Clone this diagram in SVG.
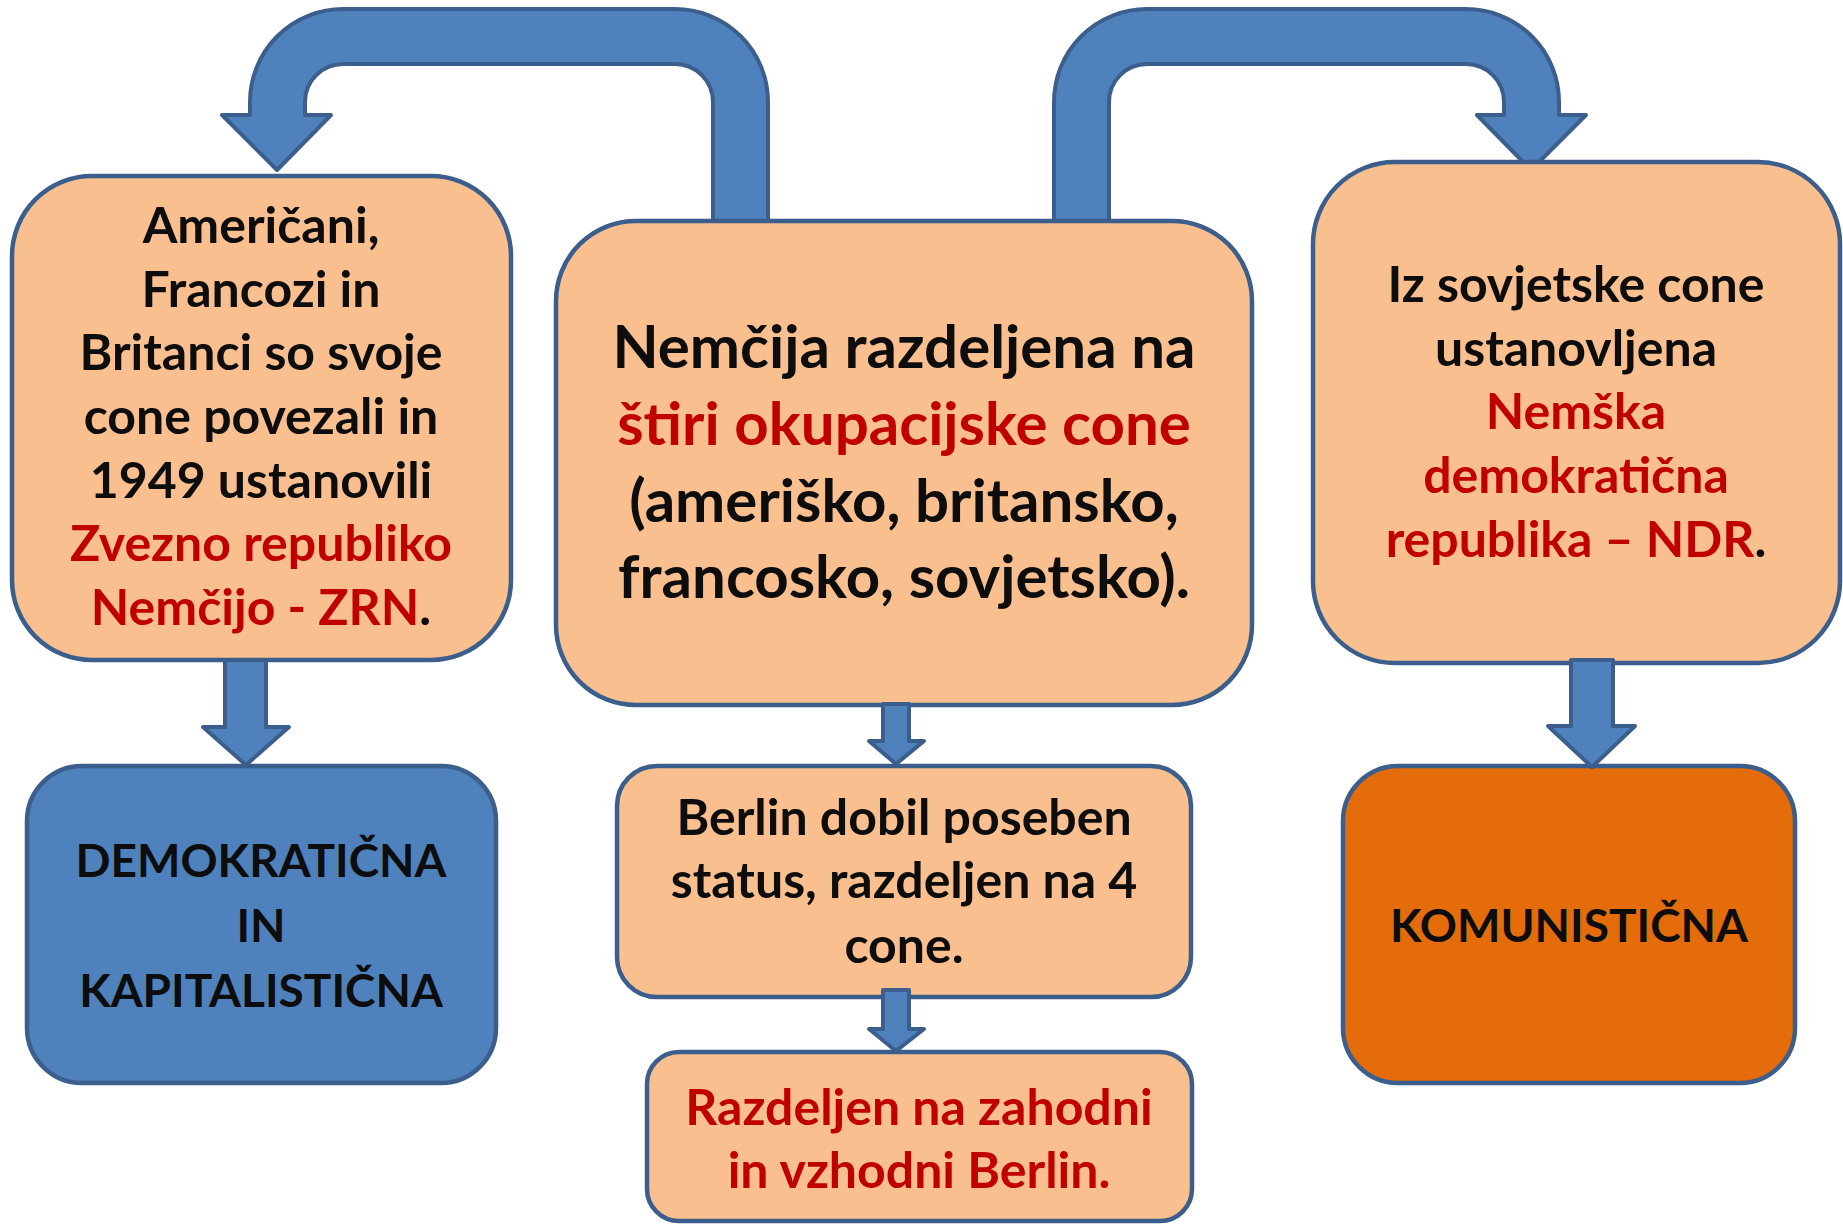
<svg xmlns="http://www.w3.org/2000/svg" width="1843" height="1225" viewBox="0 0 1843 1225">
<style>
.box{stroke:#3B5E8C;stroke-width:4.5}
.peach{fill:#F9BF8F}
.blue{fill:#4F81BD}
.orange{fill:#E46C0A}
.arrow{fill:#4F81BD;stroke:#3B5E8C;stroke-width:4;stroke-linejoin:round}
text{font-family:Lato,"Open Sans","Liberation Sans",sans-serif;font-weight:bold;fill:#0D0D0D;text-anchor:middle}
.t46{font-size:46px}
.t50{font-size:50px}
.t60{font-size:60px}
.red{fill:#C00000}
</style>
<rect width="1843" height="1225" fill="#FFFFFF"/>
<g id="connectors">
<path class="arrow" d="M222,115 L250,115 L250,102 A93,93 0 0 1 343,9 L675,9 A93,93 0 0 1 768,102 L768,221 L713,221 L713,102 A38,38 0 0 0 675,64 L343,64 A38,38 0 0 0 305,102 L305,115 L331,115 L277,170 Z"/>
<path class="arrow" d="M1054,221 L1054,102 A93,93 0 0 1 1147,9 L1466,9 A93,93 0 0 1 1559,102 L1559,115 L1586,115 L1531,170 L1477,115 L1504,115 L1504,102 A38,38 0 0 0 1466,64 L1147,64 A38,38 0 0 0 1109,102 L1109,221 Z"/>
</g>
<g id="node-left">
<rect class="box peach" x="12" y="176" width="499" height="484" rx="80"/>
<text class="t50"><tspan x="261" y="243">Američani,</tspan><tspan x="261" y="307">Francozi in</tspan><tspan x="261" y="370">Britanci so svoje</tspan><tspan x="261" y="434">cone povezali in</tspan><tspan x="261" y="498">1949 ustanovili</tspan><tspan x="261" y="561" class="red">Zvezno republiko</tspan><tspan x="261" y="625"><tspan class="red">Nemčijo - ZRN</tspan>.</tspan></text>
</g>
<g id="node-center">
<rect class="box peach" x="556" y="221" width="696" height="484" rx="80"/>
<text class="t60"><tspan x="904" y="368">Nemčija razdeljena na</tspan><tspan x="904" y="445" class="red">štiri okupacijske cone</tspan><tspan x="904" y="522">(ameriško, britansko,</tspan><tspan x="904" y="598">francosko, sovjetsko).</tspan></text>
</g>
<g id="node-right">
<rect class="box peach" x="1313" y="162" width="527" height="501" rx="82"/>
<text class="t50"><tspan x="1576" y="302">Iz sovjetske cone</tspan><tspan x="1576" y="366">ustanovljena</tspan><tspan x="1576" y="429" class="red">Nemška</tspan><tspan x="1576" y="493" class="red">demokratična</tspan><tspan x="1576" y="557"><tspan class="red">republika – NDR</tspan>.</tspan></text>
</g>
<g id="node-demo">
<rect class="box blue" x="27" y="766" width="469" height="317" rx="55"/>
<text class="t46"><tspan x="261" y="877">DEMOKRATIČNA</tspan><tspan x="261" y="942">IN</tspan><tspan x="261" y="1007">KAPITALISTIČNA</tspan></text>
</g>
<g id="node-komu">
<rect class="box orange" x="1343" y="766" width="452" height="317" rx="55"/>
<text class="t46"><tspan x="1569" y="942">KOMUNISTIČNA</tspan></text>
</g>
<g id="node-berlin">
<rect class="box peach" x="617" y="766" width="574" height="231" rx="40"/>
<text class="t50"><tspan x="904" y="835">Berlin dobil poseben</tspan><tspan x="904" y="898">status, razdeljen na 4</tspan><tspan x="904" y="963">cone.</tspan></text>
</g>
<g id="node-split">
<rect class="box peach" x="647" y="1052" width="545" height="169" rx="32"/>
<text class="t50 red"><tspan x="919" y="1125">Razdeljen na zahodni</tspan><tspan x="919" y="1188">in vzhodni Berlin.</tspan></text>
</g>
<g id="connectors-down">
<path class="arrow" d="M225,660 L266,660 L266,727 L289,727 L246,765 L203,727 L225,727 Z"/>
<path class="arrow" d="M1571,660 L1613,660 L1613,726 L1635,726 L1592,767 L1548,726 L1571,726 Z"/>
<path class="arrow" d="M883,704 L909,704 L909,741 L924,741 L896,764 L869,741 L883,741 Z"/>
<path class="arrow" d="M883,990 L909,990 L909,1029 L924,1029 L896,1051 L869,1029 L883,1029 Z"/>
</g>
</svg>
